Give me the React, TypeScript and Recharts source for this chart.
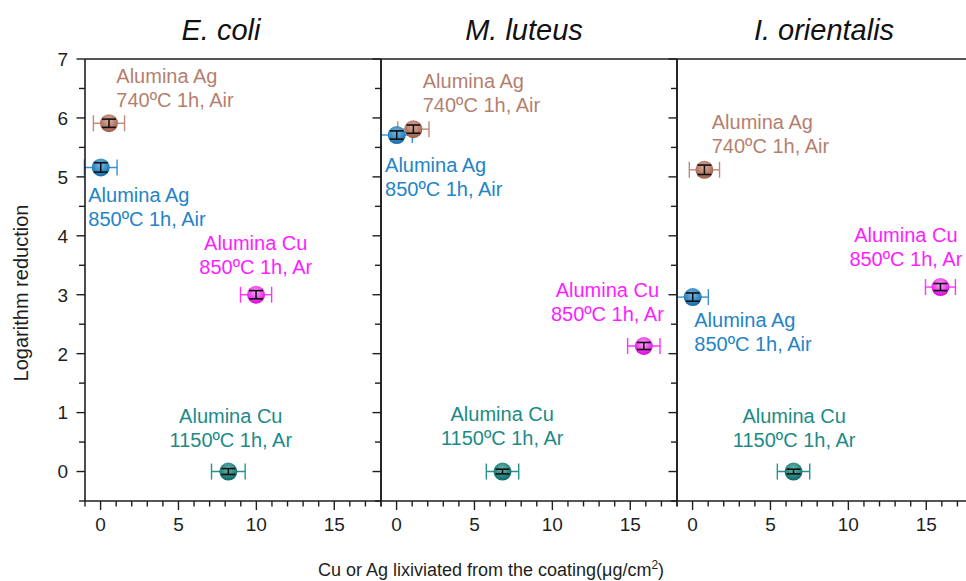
import React from 'react';
import { ScatterChart, Scatter, XAxis, YAxis, ErrorBar, ReferenceLine, ReferenceDot } from 'recharts';

const FONT = '"Liberation Sans", Arial, sans-serif';

const PANEL_TITLES = ['E. coli', 'M. luteus', 'I. orientalis'];
const LINE_1 = ['Alumina Ag', 'Alumina Ag', 'Alumina Cu', 'Alumina Cu'];
const LINE_2 = ['740ºC 1h, Air', '850ºC 1h, Air', '850ºC 1h, Ar', '1150ºC 1h, Ar'];
const ANCHORS = ['start', 'start', 'middle', 'middle'];

const BALL_LIGHT = ['#dcae9f', '#79bde8', '#ffa8ff', '#6bb9b4'];
const BALL_DARK = ['#9e5b48', '#0f69a6', '#dd00dd', '#0a6863'];
const BAR_COLORS = ['#c08878', '#3592cf', '#ff33ff', '#25938d'];
const TEXT_COLORS = ['#b57f6f', '#2384c6', '#ff1cff', '#1c8b86'];

// E. coli
const ECOLI_X = [0.54, 0.01, 9.98, 8.2];
const ECOLI_Y = [5.91, 5.16, 3.0, 0];
const ECOLI_X_ERR = [1.0, 1.05, 1.0, 1.08];
const ECOLI_Y_ERR = [0.07, 0.08, 0.07, 0.05];
const ECOLI_LABEL_X = [1.01, -0.79, 9.96, 8.36];
const ECOLI_LABEL_Y = [6.6, 4.58, 3.76, 0.82];

// M. luteus
const LUTEUS_X = [1.08, 0.01, 15.87, 6.8];
const LUTEUS_Y = [5.81, 5.71, 2.13, 0];
const LUTEUS_X_ERR = [1.0, 1.0, 1.04, 1.04];
const LUTEUS_Y_ERR = [0.07, 0.07, 0.06, 0.04];
const LUTEUS_LABEL_X = [1.68, -0.74, 13.53, 6.78];
const LUTEUS_LABEL_Y = [6.5, 5.09, 2.97, 0.86];

// I. orientalis
const ORIENT_X = [0.76, 0.01, 15.91, 6.48];
const ORIENT_Y = [5.12, 2.96, 3.13, 0];
const ORIENT_X_ERR = [0.97, 1.0, 0.96, 1.04];
const ORIENT_Y_ERR = [0.08, 0.07, 0.06, 0.04];
const ORIENT_LABEL_X = [1.23, 0.11, 13.69, 6.52];
const ORIENT_LABEL_Y = [5.82, 2.46, 3.89, 0.83];

const X_TICKS = [-1, 0, 1, 2, 3, 4, 5, 6, 7, 8, 9, 10, 11, 12, 13, 14, 15, 16, 17, 18];
const X_LABELS = [0, 5, 10, 15];
const Y_TICKS = [-0.5, 0, 0.5, 1, 1.5, 2, 2.5, 3, 3.5, 4, 4.5, 5, 5.5, 6, 6.5, 7];
const Y_LABELS = [0, 1, 2, 3, 4, 5, 6, 7];

const PANEL_LEFT = [85, 381, 677];

const build = (xs: number[], ys: number[], xe: number[], ye: number[]) =>
  xs.map((x, i) => ({ x, y: ys[i], xe: xe[i], ye: ye[i] }));

const PANELS = [
  { points: build(ECOLI_X, ECOLI_Y, ECOLI_X_ERR, ECOLI_Y_ERR), lx: ECOLI_LABEL_X, ly: ECOLI_LABEL_Y },
  { points: build(LUTEUS_X, LUTEUS_Y, LUTEUS_X_ERR, LUTEUS_Y_ERR), lx: LUTEUS_LABEL_X, ly: LUTEUS_LABEL_Y },
  { points: build(ORIENT_X, ORIENT_Y, ORIENT_X_ERR, ORIENT_Y_ERR), lx: ORIENT_LABEL_X, ly: ORIENT_LABEL_Y },
];

const INK = '#1e1e1e';

const XTick = (props: any) => {
  const { x, y, payload } = props;
  const major = X_LABELS.includes(payload.value);
  return (
    <g>
      <line x1={x} x2={x} y1={y} y2={y + (major ? 9 : 5.5)} stroke={INK} strokeWidth={1.4} />
      {major && (
        <text x={x} y={y + 30} textAnchor="middle" fontSize={19} fontFamily={FONT} fill={INK}>
          {payload.value}
        </text>
      )}
    </g>
  );
};

const makeYTick = (showLabel: boolean) => (props: any) => {
  const { x, y, payload } = props;
  const major = Number.isInteger(payload.value);
  return (
    <g>
      <line x1={x} x2={x - (major ? 8.5 : 6)} y1={y} y2={y} stroke={INK} strokeWidth={1.4} />
      {showLabel && Y_LABELS.includes(payload.value) && (
        <text x={x - 17} y={y} dy="0.36em" textAnchor="end" fontSize={19} fontFamily={FONT} fill={INK}>
          {payload.value}
        </text>
      )}
    </g>
  );
};

const Ball = ({ cx, cy, k }: any) => (
  <g>
    <defs>
      <radialGradient id={`ball-${k}`} cx="48%" cy="36%" r="64%">
        <stop offset="0%" stopColor={BALL_LIGHT[k]} />
        <stop offset="100%" stopColor={BALL_DARK[k]} />
      </radialGradient>
    </defs>
    <circle cx={cx} cy={cy} r={9} fill={`url(#ball-${k})`} />
  </g>
);

const Note = ({ cx, cy, k }: any) => (
  <text x={cx} y={cy} textAnchor={ANCHORS[k]} fill={TEXT_COLORS[k]} fontSize={20} fontFamily={FONT}>
    <tspan x={cx}>{LINE_1[k]}</tspan>
    <tspan x={cx} dy={24}>{LINE_2[k]}</tspan>
  </text>
);

function Panel({ index }: { index: number }) {
  const panel = PANELS[index];
  return (
    <div style={{ position: 'absolute', left: PANEL_LEFT[index] - 60, top: 0 }}>
      <ScatterChart width={370} height={581} margin={{ top: 59, right: 14, bottom: 0, left: 0 }}>
        <XAxis
          type="number"
          dataKey="x"
          domain={[-1, 18]}
          ticks={X_TICKS}
          allowDataOverflow
          height={80}
          tickSize={0}
          tickMargin={0}
          tickLine={false}
          tick={XTick}
          axisLine={{ stroke: INK, strokeWidth: 1.6 }}
          interval={0}
        />
        <YAxis
          type="number"
          dataKey="y"
          domain={[-0.5, 7]}
          ticks={Y_TICKS}
          allowDataOverflow
          width={60}
          tickSize={0}
          tickMargin={0}
          tickLine={false}
          tick={makeYTick(index === 0)}
          axisLine={{ stroke: INK, strokeWidth: 1.6 }}
          interval={0}
        />
        <ReferenceLine y={7} stroke={INK} strokeWidth={1.6} />
        <ReferenceLine x={18} stroke={INK} strokeWidth={1.6} />
        {panel.points.map((p, k) => (
          <Scatter
            key={`s-${k}`}
            data={[p]}
            isAnimationActive={false}
            shape={(props: any) => <Ball cx={props.cx} cy={props.cy} k={k} />}
          >
            <ErrorBar dataKey="xe" direction="x" width={8} stroke={BAR_COLORS[k]} strokeWidth={1.4} />
          </Scatter>
        ))}
        <Scatter data={panel.points} isAnimationActive={false} shape={() => <g />} zIndex={900}>
          <ErrorBar dataKey="ye" direction="y" width={7} stroke="#111" strokeWidth={1.6} zIndex={900} />
        </Scatter>
        {panel.lx.map((lx, k) => (
          <ReferenceDot
            key={`n-${k}`}
            x={lx}
            y={panel.ly[k]}
            r={0}
            ifOverflow="visible"
            shape={(props: any) => <Note cx={props.cx} cy={props.cy} k={k} />}
          />
        ))}
      </ScatterChart>
    </div>
  );
}

export default function App() {
  return (
    <div
      style={{
        position: 'absolute',
        left: 0,
        top: 0,
        width: 966,
        height: 581,
        overflow: 'hidden',
        background: '#fff',
      }}
    >
      <Panel index={0} />
      <Panel index={1} />
      <Panel index={2} />
      <svg width={966} height={581} style={{ position: 'absolute', left: 0, top: 0, pointerEvents: 'none' }}>
        {PANEL_TITLES.map((t, i) => (
          <text
            key={t}
            x={[221, 524, 824][i]}
            y={40}
            textAnchor="middle"
            fontSize={29}
            fontStyle="italic"
            fontFamily={FONT}
            fill="#111"
          >
            {t}
          </text>
        ))}
        <text
          transform="translate(28,293) rotate(-90)"
          textAnchor="middle"
          fontSize={20}
          fontFamily={FONT}
          fill={INK}
        >
          Logarithm reduction
        </text>
        <text x={491} y={576} textAnchor="middle" fontSize={18} fontFamily={FONT} fill={INK}>
          Cu or Ag lixiviated from the coating(μg/cm
          <tspan dy={-7} fontSize={12}>2</tspan>
          <tspan dy={7}>)</tspan>
        </text>
      </svg>
    </div>
  );
}
